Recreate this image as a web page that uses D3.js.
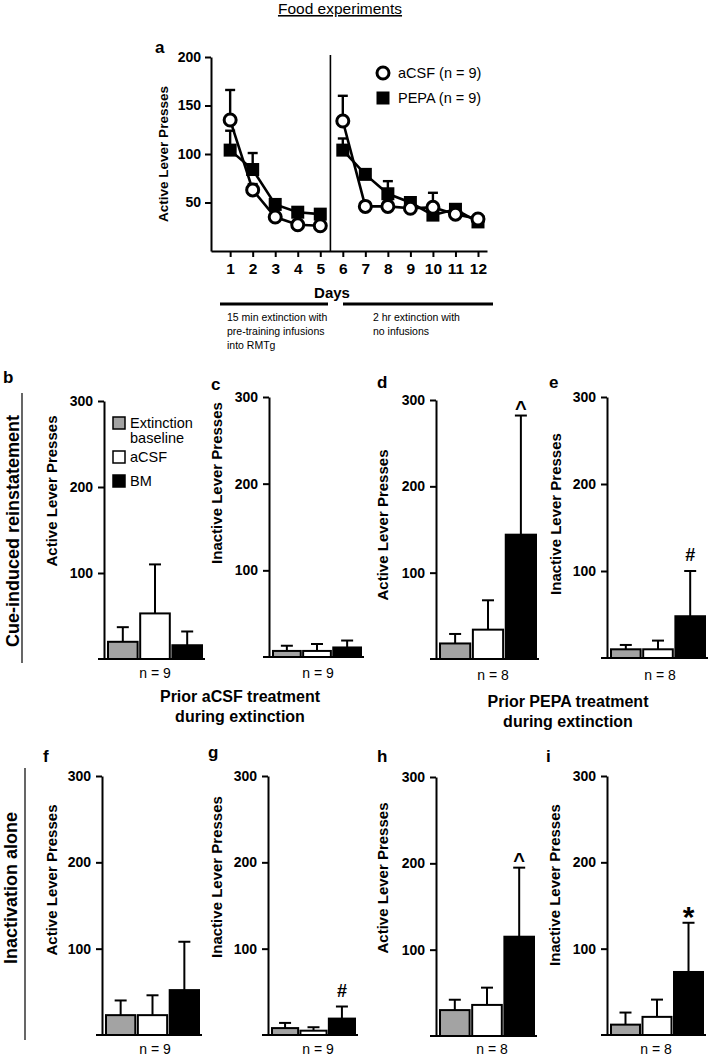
<!DOCTYPE html>
<html>
<head>
<meta charset="utf-8">
<script src="https://cdn.jsdelivr.net/npm/d3@7"></script>
<style>
  html, body { margin: 0; padding: 0; background: #fff; }
  svg { display: block; }
  text { font-family: "Liberation Sans", Arial, sans-serif; fill: #000; }
</style>
</head>
<body>
<svg id="chart" width="711" height="1057"></svg>
<script>
// ---------------- DATA ----------------
const days = [1, 2, 3, 4, 5, 6, 7, 8, 9, 10, 11, 12];
const acsfMean = [135, 63, 35, 27, 26, 134, 46, 46, 44, 45, 38, 33];
const acsfErr  = [31, 6, 4, 3, 3, 26, 4, 5, 4, 15, 4, 3];
const pepaMean = [104, 84, 48, 40, 38, 104, 79, 59, 50, 37, 43, 30];
const pepaErr  = [20, 17, 4, 4, 4, 12, 5, 13, 5, 4, 4, 4];
const lineYTicks = [50, 100, 150, 200];
const lineSeries = ["aCSF (n = 9)", "PEPA (n = 9)"];

const barConditions = ["Extinction baseline", "aCSF", "BM"];
const barColors = ["#a3a3a3", "#ffffff", "#000000"];
const barYTicks = [100, 200, 300];

const bMean = [20, 53, 16],  bErr = [17, 57, 16];
const cMean = [7, 7, 11],    cErr = [6, 8, 8];
const dMean = [18, 34, 144], dErr = [11, 34, 138];
const eMean = [10, 10, 48],  eErr = [5, 10, 52];
const fMean = [23, 23, 52],  fErr = [17, 23, 56];
const gMean = [8, 5, 19],    gErr = [6, 4, 14];
const hMean = [30, 36, 115], hErr = [12, 20, 80];
const iMean = [12, 21, 73],  iErr = [14, 20, 57];

// ---------------- DRAW ----------------
const svg = d3.select("#chart");
svg.append("rect").attr("width", 711).attr("height", 1057).attr("fill", "#fff");

// Title
svg.append("text").attr("x", 340).attr("y", 14).attr("text-anchor", "middle")
  .style("font-size", "15.5px").style("text-decoration", "underline").text("Food experiments");

// ---- Panel a ----
const ax = d3.scaleLinear().domain([0.15, 12.4]).range([211, 487]);
const ay = d3.scaleLinear().domain([0, 200]).range([251, 57]);
const ga = svg.append("g");

ga.append("text").attr("x", 155).attr("y", 53).style("font-size", "17px").style("font-weight", "bold").text("a");

// y axis
const yAxA = d3.axisLeft(ay).tickValues(lineYTicks).tickSize(6).tickPadding(4).tickSizeOuter(0);
const gya = ga.append("g").attr("transform", `translate(${ax(0.15)},0)`).call(yAxA);
gya.select(".domain").attr("stroke-width", 2);
gya.selectAll(".tick line").attr("stroke-width", 2);
gya.selectAll(".tick text").style("font-size", "14px").style("font-weight", "bold")
  .style("font-family", "'Liberation Sans', Arial, sans-serif");

// x axis
const xAxA = d3.axisBottom(ax).tickValues(days).tickSize(6).tickPadding(6).tickSizeOuter(0);
const gxa = ga.append("g").attr("transform", `translate(0,${ay(0)})`).call(xAxA);
gxa.select(".domain").attr("stroke-width", 2);
gxa.selectAll(".tick line").attr("stroke-width", 2);
gxa.selectAll(".tick text").style("font-size", "15.5px").style("font-weight", "bold")
  .style("font-family", "'Liberation Sans', Arial, sans-serif");

ga.append("text").attr("transform", "translate(168,154) rotate(-90)").attr("text-anchor", "middle")
  .style("font-size", "13.5px").style("font-weight", "bold").text("Active Lever Presses");
ga.append("text").attr("x", 332).attr("y", 298).attr("text-anchor", "middle")
  .style("font-size", "15px").style("font-weight", "bold").text("Days");

// divider
ga.append("line").attr("x1", ax(5.45)).attr("x2", ax(5.45)).attr("y1", ay(200) - 2).attr("y2", ay(0))
  .attr("stroke", "#000").attr("stroke-width", 1.6);

const phases = [[0, 5], [5, 12]];
const seriesDefs = [
  { name: lineSeries[1], mean: pepaMean, err: pepaErr, shape: "square" },
  { name: lineSeries[0], mean: acsfMean, err: acsfErr, shape: "circle" }
];
// error bars
seriesDefs.forEach(s => {
  days.forEach((d, i) => {
    const x = ax(d);
    ga.append("line").attr("x1", x).attr("x2", x).attr("y1", ay(s.mean[i])).attr("y2", ay(s.mean[i] + s.err[i]))
      .attr("stroke", "#000").attr("stroke-width", 2.4);
    ga.append("line").attr("x1", x - 5).attr("x2", x + 5).attr("y1", ay(s.mean[i] + s.err[i])).attr("y2", ay(s.mean[i] + s.err[i]))
      .attr("stroke", "#000").attr("stroke-width", 2.4);
  });
});
// lines
const lineGen = d3.line().x(d => ax(d[0])).y(d => ay(d[1]));
seriesDefs.forEach(s => {
  phases.forEach(([a, b]) => {
    const pts = days.slice(a, b).map((d, k) => [d, s.mean[a + k]]);
    ga.append("path").attr("d", lineGen(pts)).attr("fill", "none").attr("stroke", "#000").attr("stroke-width", 2.6);
  });
});
// markers
seriesDefs.forEach(s => {
  days.forEach((d, i) => {
    if (s.shape === "square") {
      ga.append("rect").attr("x", ax(d) - 6.5).attr("y", ay(s.mean[i]) - 6.5).attr("width", 13).attr("height", 13).attr("fill", "#000");
    } else {
      ga.append("circle").attr("cx", ax(d)).attr("cy", ay(s.mean[i])).attr("r", 6)
        .attr("fill", "#fff").attr("stroke", "#000").attr("stroke-width", 3);
    }
  });
});
// legend
ga.append("circle").attr("cx", 383).attr("cy", 73).attr("r", 6).attr("fill", "#fff").attr("stroke", "#000").attr("stroke-width", 3);
ga.append("text").attr("x", 398).attr("y", 78).style("font-size", "14.5px").text(lineSeries[0]);
ga.append("rect").attr("x", 376.5).attr("y", 91.5).attr("width", 13).attr("height", 13).attr("fill", "#000");
ga.append("text").attr("x", 398).attr("y", 103).style("font-size", "14.5px").text(lineSeries[1]);

// phase bars
ga.append("line").attr("x1", 220).attr("x2", 328).attr("y1", 304).attr("y2", 304).attr("stroke", "#000").attr("stroke-width", 3);
ga.append("line").attr("x1", 343).attr("x2", 493).attr("y1", 304).attr("y2", 304).attr("stroke", "#000").attr("stroke-width", 3);
const ph1 = ["15 min extinction with", "pre-training infusions", "into RMTg"];
const ph2 = ["2 hr extinction with", "no infusions"];
ph1.forEach((t, k) => ga.append("text").attr("x", 227).attr("y", 321 + k * 14).style("font-size", "10.5px").text(t));
ph2.forEach((t, k) => ga.append("text").attr("x", 373).attr("y", 321 + k * 14).style("font-size", "10.5px").text(t));

// ---- Bar panels ----
const panels = [
  { letter: "b", lx: 3,   ly: 383, ax: 104, y0: 659, y300: 401, xEnd: 205, yl: "Active Lever Presses",   ylx: 57,  yly: 491, n: "n = 9", nx: 155, ny: 678, mean: bMean, err: bErr, mark: null },
  { letter: "c", lx: 211, ly: 390, ax: 269, y0: 657, y300: 397, xEnd: 364, yl: "Inactive Lever Presses", ylx: 222, yly: 483, n: "n = 9", nx: 318, ny: 678, mean: cMean, err: cErr, mark: null },
  { letter: "d", lx: 377, ly: 388, ax: 436, y0: 659, y300: 400, xEnd: 539, yl: "Active Lever Presses",   ylx: 388, yly: 525, n: "n = 8", nx: 493, ny: 680, mean: dMean, err: dErr, mark: "^" },
  { letter: "e", lx: 549, ly: 388, ax: 607, y0: 658, y300: 397, xEnd: 708, yl: "Inactive Lever Presses", ylx: 561, yly: 514, n: "n = 8", nx: 660, ny: 680, mean: eMean, err: eErr, mark: "#" },
  { letter: "f", lx: 43,  ly: 762, ax: 102, y0: 1035, y300: 776, xEnd: 202, yl: "Active Lever Presses",  ylx: 57,  yly: 880, n: "n = 9", nx: 155, ny: 1054, mean: fMean, err: fErr, mark: null },
  { letter: "g", lx: 208, ly: 758, ax: 268, y0: 1035, y300: 776, xEnd: 358, yl: "Inactive Lever Presses", ylx: 222, yly: 877, n: "n = 9", nx: 318, ny: 1054, mean: gMean, err: gErr, mark: "#" },
  { letter: "h", lx: 377, ly: 762, ax: 436, y0: 1036, y300: 777, xEnd: 537, yl: "Active Lever Presses", ylx: 388, yly: 878, n: "n = 8", nx: 492, ny: 1054, mean: hMean, err: hErr, mark: "^" },
  { letter: "i", lx: 546, ly: 762, ax: 607, y0: 1035, y300: 776, xEnd: 706, yl: "Inactive Lever Presses", ylx: 560, yly: 885, n: "n = 8", nx: 656, ny: 1054, mean: iMean, err: iErr, mark: "*" }
];

panels.forEach(p => {
  const g = svg.append("g");
  const y = d3.scaleLinear().domain([0, 300]).range([p.y0, p.y300]);
  const x = d3.scaleBand().domain(barConditions).range([p.ax + 4, p.xEnd - 3]).paddingInner(0.08).paddingOuter(0);

  g.append("text").attr("x", p.lx).attr("y", p.ly).style("font-size", "17px").style("font-weight", "bold").text(p.letter);

  // y axis
  const yAx = d3.axisLeft(y).tickValues(barYTicks).tickSize(6).tickPadding(5).tickSizeOuter(0);
  const gy = g.append("g").attr("transform", `translate(${p.ax},0)`).call(yAx);
  gy.select(".domain").attr("stroke-width", 2);
  gy.selectAll(".tick line").attr("stroke-width", 2);
  gy.selectAll(".tick text").style("font-size", "14px").style("font-weight", "bold")
    .style("font-family", "'Liberation Sans', Arial, sans-serif");

  // baseline
  g.append("line").attr("x1", p.ax - 6).attr("x2", p.xEnd).attr("y1", y(0)).attr("y2", y(0))
    .attr("stroke", "#000").attr("stroke-width", 2);

  // error bars
  barConditions.forEach((c, i) => {
    const cx = x(c) + x.bandwidth() / 2;
    const top = y(p.mean[i] + p.err[i]);
    g.append("line").attr("x1", cx).attr("x2", cx).attr("y1", y(p.mean[i])).attr("y2", top).attr("stroke", "#000").attr("stroke-width", 2);
    g.append("line").attr("x1", cx - 6).attr("x2", cx + 6).attr("y1", top).attr("y2", top).attr("stroke", "#000").attr("stroke-width", 2);
  });
  // bars
  g.selectAll("rect.bar").data(barConditions).enter().append("rect").attr("class", "bar")
    .attr("x", c => x(c)).attr("width", x.bandwidth())
    .attr("y", (c, i) => y(p.mean[i])).attr("height", (c, i) => y(0) - y(p.mean[i]))
    .attr("fill", (c, i) => barColors[i]).attr("stroke", "#000").attr("stroke-width", 2);

  // significance mark
  if (p.mark) {
    const c = barConditions[2];
    const cx = x(c) + x.bandwidth() / 2;
    const top = y(p.mean[2] + p.err[2]);
    const mk = g.append("text").attr("x", cx).attr("text-anchor", "middle").style("font-weight", "bold").text(p.mark);
    if (p.mark === "*") mk.attr("y", top + 4).style("font-size", "30px");
    else if (p.mark === "^") mk.attr("y", top - 1).style("font-size", "20px");
    else mk.attr("y", top - 10).style("font-size", "18px");
  }

  // y label
  g.append("text").attr("transform", `translate(${p.ylx},${p.yly}) rotate(-90)`).attr("text-anchor", "middle")
    .style("font-size", "15px").style("font-weight", "bold").text(p.yl);
  // n label
  g.append("text").attr("x", p.nx).attr("y", p.ny).attr("text-anchor", "middle").style("font-size", "14px").text(p.n);
});

// legend for bars (panel b)
const lg = svg.append("g");
barConditions.forEach((c, i) => {
  const yy = [423, 457, 481][i];
  lg.append("rect").attr("x", 113).attr("y", yy - 6).attr("width", 12).attr("height", 12)
    .attr("fill", barColors[i]).attr("stroke", "#000").attr("stroke-width", 1.5);
});
lg.append("text").attr("x", 130).attr("y", 428).style("font-size", "14.5px").text("Extinction");
lg.append("text").attr("x", 130).attr("y", 443).style("font-size", "14.5px").text("baseline");
lg.append("text").attr("x", 130).attr("y", 462).style("font-size", "14.5px").text("aCSF");
lg.append("text").attr("x", 130).attr("y", 486).style("font-size", "14.5px").text("BM");

// row labels
svg.append("text").attr("transform", "translate(19,531) rotate(-90)").attr("text-anchor", "middle")
  .style("font-size", "18px").style("font-weight", "bold").text("Cue-induced reinstatement");
svg.append("line").attr("x1", 22).attr("x2", 22).attr("y1", 393).attr("y2", 663).attr("stroke", "#000").attr("stroke-width", 1.2);
svg.append("text").attr("transform", "translate(17,888) rotate(-90)").attr("text-anchor", "middle")
  .style("font-size", "18px").style("font-weight", "bold").text("Inactivation alone");
svg.append("line").attr("x1", 25).attr("x2", 25).attr("y1", 768).attr("y2", 1040).attr("stroke", "#000").attr("stroke-width", 1.2);

// group captions
[["Prior aCSF treatment", "during extinction", 240, 702], ["Prior PEPA treatment", "during extinction", 568, 707]].forEach(([l1, l2, cx, by]) => {
  svg.append("text").attr("x", cx).attr("y", by).attr("text-anchor", "middle").style("font-size", "16px").style("font-weight", "bold").text(l1);
  svg.append("text").attr("x", cx).attr("y", by + 20).attr("text-anchor", "middle").style("font-size", "16px").style("font-weight", "bold").text(l2);
});
</script>
</body>
</html>
